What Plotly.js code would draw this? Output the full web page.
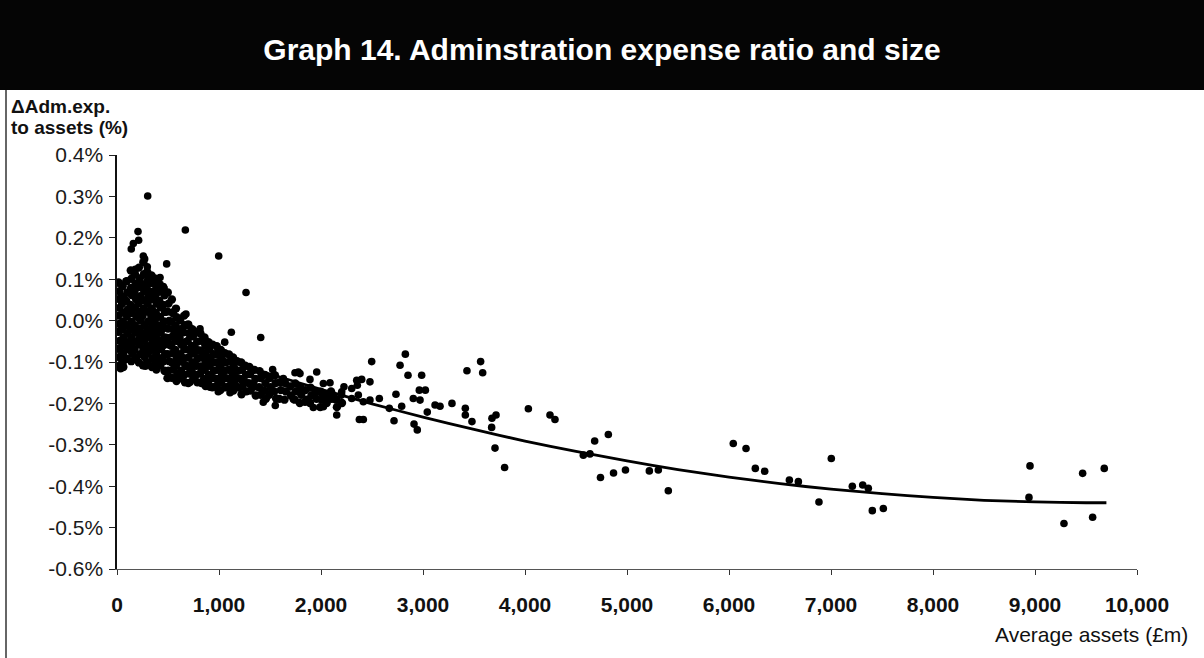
<!DOCTYPE html>
<html>
<head>
<meta charset="utf-8">
<script src="https://cdn.plot.ly/plotly-3.0.1.min.js"></script>
<style>
  html, body { margin: 0; padding: 0; background: #ffffff; }
  #chart { width: 1204px; height: 658px; }
</style>
</head>
<body>
<div id="chart"></div>
<script>
// ---------- DATA ----------
// Average assets (£m), change in admin expense ratio (%)
const denseCluster = [
  [15,0.092],[22,0.071],[18,0.052],[25,0.031],[12,0.012],[20,-0.008],[16,-0.027],[24,-0.049],[14,-0.068],[21,-0.088],[28,-0.108],[35,-0.115],
  [55,0.083],[62,0.058],[50,0.041],[66,0.019],[58,-0.002],[52,-0.021],[64,-0.041],[57,-0.061],[61,-0.079],[55,-0.101],[62,-0.112],
  [95,0.095],[102,0.068],[90,0.048],[106,0.027],[98,0.011],[93,-0.012],[104,-0.031],[97,-0.052],[110,-0.069],[96,-0.092],
  [135,0.121],[142,0.101],[138,0.079],[145,0.062],[133,0.038],[147,0.018],[139,-0.003],[131,-0.022],[144,-0.042],[137,-0.061],[149,-0.079],[140,-0.098],
  [176,0.112],[183,0.089],[171,0.071],[186,0.052],[178,0.031],[190,0.009],[174,-0.011],[185,-0.029],[180,-0.051],[172,-0.071],[188,-0.089],
  [215,0.128],[224,0.102],[218,0.081],[228,0.059],[212,0.042],[222,0.021],[230,0.001],[216,-0.019],[226,-0.041],[219,-0.058],[231,-0.081],[214,-0.101],
  [258,0.141],[264,0.112],[252,0.088],[268,0.071],[256,0.049],[262,0.029],[250,0.011],[270,-0.012],[255,-0.031],[266,-0.049],[259,-0.071],[272,-0.088],[254,-0.108],
  [296,0.118],[304,0.098],[292,0.082],[308,0.058],[300,0.041],[290,0.022],[306,-0.002],[298,-0.021],[310,-0.039],[294,-0.062],[303,-0.079],[299,-0.101],
  [338,0.109],[345,0.091],[334,0.069],[348,0.052],[341,0.029],[336,0.012],[350,-0.011],[339,-0.028],[346,-0.052],[333,-0.068],[352,-0.091],[342,-0.112],
  [378,0.101],[385,0.078],[374,0.061],[389,0.041],[380,0.019],[372,0.002],[388,-0.021],[377,-0.039],[391,-0.061],[383,-0.078],[375,-0.101],[386,-0.118],
  [418,0.088],[426,0.071],[414,0.048],[429,0.032],[421,0.009],[412,-0.012],[428,-0.029],[419,-0.052],[431,-0.069],[416,-0.091],[424,-0.108],
  [458,0.079],[466,0.061],[452,0.038],[470,0.021],[461,-0.002],[455,-0.018],[468,-0.041],[459,-0.059],[472,-0.081],[454,-0.098],[465,-0.121],
  [498,0.068],[505,0.041],[494,0.022],[510,-0.001],[501,-0.019],[492,-0.042],[508,-0.058],[497,-0.081],[512,-0.098],[503,-0.121],[495,-0.139],
  [538,0.051],[545,0.018],[534,-0.002],[550,-0.021],[541,-0.039],[532,-0.061],[548,-0.079],[539,-0.101],[552,-0.118],[536,-0.138],
  [578,0.029],[585,0.008],[574,-0.012],[590,-0.031],[581,-0.049],[572,-0.071],[588,-0.089],[579,-0.108],[592,-0.129],[583,-0.146]
];
const midCluster = [
  [618,0.001],[626,-0.021],[613,-0.041],[630,-0.058],[621,-0.081],[612,-0.099],[628,-0.121],[619,-0.139],
  [658,0.012],[665,-0.011],[652,-0.028],[668,-0.052],[661,-0.069],[654,-0.091],[670,-0.108],[659,-0.131],[666,-0.149],
  [698,-0.009],[706,-0.031],[693,-0.049],[710,-0.071],[701,-0.089],[692,-0.111],[708,-0.128],[699,-0.151],
  [738,-0.021],[745,-0.038],[734,-0.061],[750,-0.079],[741,-0.101],[732,-0.119],[748,-0.141],
  [778,-0.028],[786,-0.051],[772,-0.069],[790,-0.091],[781,-0.109],[774,-0.131],[788,-0.149],
  [818,-0.031],[825,-0.049],[812,-0.072],[830,-0.089],[821,-0.111],[814,-0.128],[828,-0.151],
  [858,-0.041],[866,-0.061],[852,-0.079],[870,-0.101],[861,-0.119],[854,-0.141],[868,-0.158],
  [898,-0.052],[905,-0.069],[892,-0.091],[910,-0.109],[901,-0.131],[894,-0.148],
  [938,-0.058],[946,-0.081],[932,-0.099],[950,-0.121],[941,-0.139],[934,-0.161],
  [978,-0.062],[985,-0.079],[972,-0.101],[990,-0.119],[981,-0.141],[974,-0.158],
  [1018,-0.071],[1026,-0.091],[1012,-0.109],[1030,-0.131],[1021,-0.149],[1014,-0.168],
  [1058,-0.079],[1065,-0.101],[1052,-0.121],[1070,-0.139],[1061,-0.161],
  [1098,-0.082],[1106,-0.099],[1092,-0.119],[1110,-0.141],[1101,-0.158],
  [1138,-0.089],[1145,-0.111],[1132,-0.128],[1150,-0.151],[1141,-0.169],
  [1178,-0.098],[1186,-0.121],[1172,-0.139],[1190,-0.161],
  [1218,-0.101],[1225,-0.119],[1212,-0.141],[1230,-0.159],[1221,-0.178],
  [1258,-0.109],[1266,-0.131],[1252,-0.149],[1270,-0.171],
  [1298,-0.112],[1305,-0.129],[1292,-0.151],[1310,-0.169],
  [1348,-0.119],[1356,-0.141],[1342,-0.159],[1360,-0.181],
  [1398,-0.122],[1406,-0.139],[1392,-0.161],[1410,-0.179],
  [1448,-0.131],[1455,-0.151],[1442,-0.169],[1460,-0.189],
  [1498,-0.139],[1506,-0.161],[1492,-0.179],
  [1548,-0.132],[1555,-0.151],[1542,-0.171],[1560,-0.188],
  [1598,-0.149],[1606,-0.168],[1592,-0.189],
  [1648,-0.151],[1655,-0.171],[1642,-0.191],
  [1698,-0.159],[1706,-0.181],
  [1748,-0.152],[1755,-0.171],[1742,-0.191],
  [1798,-0.161],[1806,-0.179],[1792,-0.199],
  [1848,-0.168],[1856,-0.191],
  [1898,-0.162],[1906,-0.181],[1892,-0.199],
  [1948,-0.171],[1956,-0.189],
  [1998,-0.172],[2006,-0.191],[1992,-0.209],
  [2048,-0.181],[2056,-0.199],
  [2098,-0.171],[2106,-0.189],
  [2148,-0.191],[2156,-0.209],
  [2198,-0.179],[2206,-0.199]
];
const scatteredSmall = [
  [301,0.301],[670,0.219],[997,0.156],[1265,0.068],[487,0.137],[206,0.215],[212,0.194],[160,0.186],[140,0.173],
  [258,0.156],[271,0.149],[180,0.124],[297,0.130],[343,0.107],[422,0.104],[16,0.091],[88,0.095],[454,0.082],
  [676,0.016],[1121,-0.028],[1409,-0.041],[814,-0.020],[703,-0.013],[1056,-0.052],[1958,-0.124],[1778,-0.124],
  [1526,-0.118],[56,-0.102],[62,-0.112],[278,-0.110],[474,-0.123],[585,-0.144],[716,-0.149],[912,-0.161],
  [1108,-0.174],[1434,-0.197],[1552,-0.205],[1729,-0.190],[1843,-0.197],[1925,-0.210],[2023,-0.208],[2023,-0.152],
  [552,0.021],[389,0.066],[993,-0.172],[1337,-0.152],[1631,-0.140],[1794,-0.128],[1892,-0.142],[2088,-0.150],
  [1745,-0.126],[2007,-0.176],[2121,-0.180],[2203,-0.172],[2301,-0.164]
];
const midFunds = [
  [2225,-0.160],[2154,-0.228],[2350,-0.144],[2399,-0.142],[2480,-0.148],[2356,-0.156],[2497,-0.099],[2301,-0.188],
  [2366,-0.180],[2415,-0.196],[2480,-0.192],[2572,-0.188],[2376,-0.239],[2415,-0.239],[2670,-0.212],[2716,-0.242],
  [2735,-0.178],[2791,-0.207],[2775,-0.108],[2827,-0.081],[2853,-0.132],[2987,-0.132],[2905,-0.188],[2964,-0.168],
  [3023,-0.168],[2971,-0.192],[2912,-0.250],[2944,-0.264],[3042,-0.221],[3118,-0.204],[3167,-0.207],[3284,-0.200],
  [3415,-0.212],[3415,-0.228],[3480,-0.244],[3431,-0.121],[3565,-0.099],[3585,-0.126],[3676,-0.236],[3716,-0.228],
  [3673,-0.258],[3706,-0.308],[3800,-0.355],[4033,-0.213],[4245,-0.228],[4294,-0.239],[4683,-0.291],[4817,-0.275],
  [4572,-0.325],[4637,-0.322],[4740,-0.379]
];
const largeFunds = [
  [4868,-0.368],[4985,-0.361],[5219,-0.363],[5307,-0.361],[5405,-0.411],[6042,-0.297],[6167,-0.309],[6258,-0.357],
  [6350,-0.364],[6592,-0.385],[6680,-0.389],[6882,-0.438],[7003,-0.333],[7209,-0.400],[7311,-0.397],[7366,-0.405],
  [7405,-0.459],[7513,-0.454],[8951,-0.351],[8941,-0.427],[9467,-0.369],[9679,-0.357],[9565,-0.475],[9284,-0.490]
];
// Fitted trend line, read along its length
const trendAssets = [10, 500, 1000, 1500, 2000, 2500, 3000, 3500, 4000, 4500, 5000, 5500, 6000, 6500, 7000, 7500, 8000, 8500, 9000, 9500, 9700];
const trendRatio  = [-0.005, -0.048, -0.090, -0.129, -0.166, -0.201, -0.233, -0.263, -0.291, -0.316, -0.339, -0.360, -0.378, -0.394, -0.407, -0.418, -0.427, -0.434, -0.438, -0.440, -0.440];

const xTickVals = [0, 1000, 2000, 3000, 4000, 5000, 6000, 7000, 8000, 9000, 10000];
const xTickText = ['0', '1,000', '2,000', '3,000', '4,000', '5,000', '6,000', '7,000', '8,000', '9,000', '10,000'];
const yTickVals = [0.4, 0.3, 0.2, 0.1, 0.0, -0.1, -0.2, -0.3, -0.4, -0.5, -0.6];
const yTickText = ['0.4%', '0.3%', '0.2%', '0.1%', '0.0%', '-0.1%', '-0.2%', '-0.3%', '-0.4%', '-0.5%', '-0.6%'];

const chartTitle = 'Graph 14. Adminstration expense ratio and size';
const yTitleLines = ['\u0394Adm.exp.', 'to assets (%)'];
const xTitle = 'Average assets (\u00a3m)';

// ---------- BUILD ----------
const densePoints = [].concat(denseCluster, midCluster);
const loosePoints = [].concat(scatteredSmall, midFunds, largeFunds);

const W = 1204, H = 658;
const M = { l: 117, r: 67, t: 155, b: 89 };
const plotW = W - M.l - M.r, plotH = H - M.t - M.b;
const toPaperX = pxl => (pxl - M.l) / plotW;
const toPaperY = pyl => (H - M.b - pyl) / plotH;

const traces = [
  {
    x: densePoints.map(p => p[0]), y: densePoints.map(p => p[1]),
    type: 'scatter', mode: 'markers',
    marker: { color: '#000000', size: 8.4, line: { width: 0 } },
    hoverinfo: 'skip', showlegend: false
  },
  {
    x: loosePoints.map(p => p[0]), y: loosePoints.map(p => p[1]),
    type: 'scatter', mode: 'markers',
    marker: { color: '#000000', size: 7.6, line: { width: 0 } },
    hoverinfo: 'skip', showlegend: false
  },
  {
    x: trendAssets, y: trendRatio, type: 'scatter', mode: 'lines',
    line: { color: '#000000', width: 2.8, shape: 'spline', smoothing: 0.6 },
    hoverinfo: 'skip', showlegend: false
  }
];

const fontFam = 'Liberation Sans, Arial, Helvetica, sans-serif';

const layout = {
  width: W, height: H,
  margin: M,
  paper_bgcolor: '#ffffff',
  plot_bgcolor: '#ffffff',
  showlegend: false,
  font: { family: fontFam, color: '#000000' },
  title: {
    text: '<b>' + chartTitle + '</b>',
    font: { family: fontFam, size: 30, color: '#ffffff' },
    x: 0.5, xref: 'container', xanchor: 'center',
    y: 1 - 49 / H, yref: 'container', yanchor: 'middle'
  },
  xaxis: {
    range: [0, 10000],
    tickmode: 'array', tickvals: xTickVals, ticktext: xTickText,
    ticks: 'outside', ticklen: 5, tickwidth: 1, tickcolor: '#333333',
    ticklabelstandoff: 12,
    tickfont: { family: fontFam, size: 21, color: '#111111', weight: 'bold' },
    showgrid: false, zeroline: false,
    showline: true, linecolor: '#555555', linewidth: 1.2,
    fixedrange: true
  },
  yaxis: {
    range: [-0.6, 0.4],
    tickmode: 'array', tickvals: yTickVals, ticktext: yTickText,
    ticks: 'outside', ticklen: 6, tickwidth: 1, tickcolor: '#222222',
    ticklabelstandoff: 2,
    tickfont: { family: fontFam, size: 21, color: '#1a1a1a' },
    showgrid: false, zeroline: false,
    showline: true, linecolor: '#111111', linewidth: 1.6,
    fixedrange: true
  },
  shapes: [
    { type: 'rect', xref: 'paper', yref: 'paper',
      x0: toPaperX(0), x1: toPaperX(W), y0: toPaperY(90), y1: toPaperY(0),
      fillcolor: '#050505', line: { width: 0 }, layer: 'below' },
    { type: 'line', xref: 'paper', yref: 'paper',
      x0: toPaperX(6), x1: toPaperX(6), y0: toPaperY(H), y1: toPaperY(90),
      line: { color: '#333333', width: 1.5 } }
  ],
  annotations: [
    { text: '<b>' + yTitleLines[0] + '</b>', xref: 'paper', yref: 'paper',
      x: toPaperX(9), y: toPaperY(107), xanchor: 'left', yanchor: 'middle',
      showarrow: false, font: { family: fontFam, size: 19, color: '#111111' } },
    { text: '<b>' + yTitleLines[1] + '</b>', xref: 'paper', yref: 'paper',
      x: toPaperX(9), y: toPaperY(128), xanchor: 'left', yanchor: 'middle',
      showarrow: false, font: { family: fontFam, size: 19, color: '#111111' } },
    { text: xTitle, xref: 'paper', yref: 'paper',
      x: toPaperX(1190), y: toPaperY(634), xanchor: 'right', yanchor: 'middle',
      showarrow: false, font: { family: fontFam, size: 21, color: '#111111' } }
  ]
};

Plotly.newPlot('chart', traces, layout, { staticPlot: true, displayModeBar: false });
</script>
</body>
</html>
